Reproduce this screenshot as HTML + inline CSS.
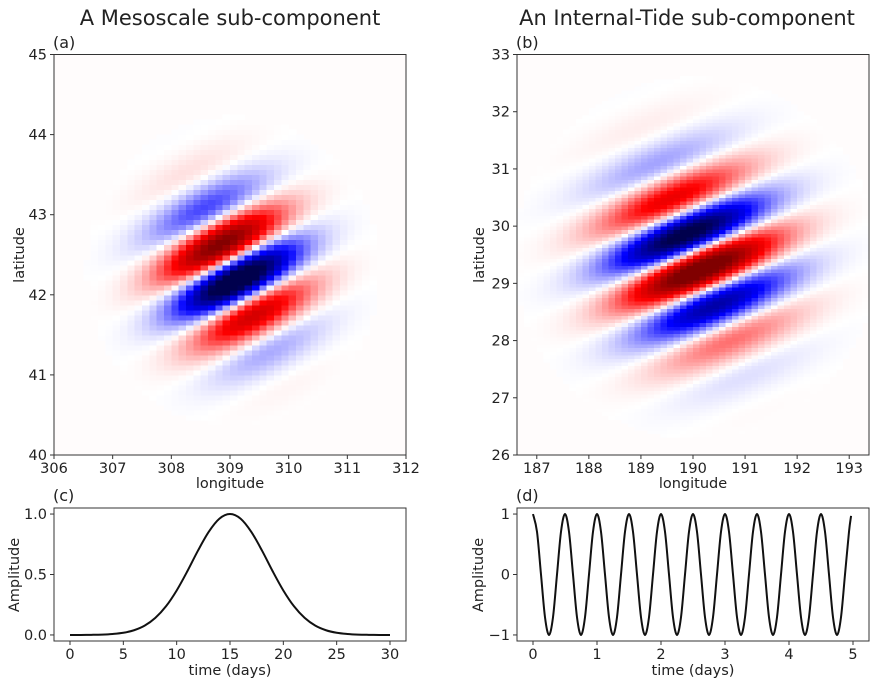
<!DOCTYPE html>
<html><head><meta charset="utf-8">
<style>
html,body{margin:0;padding:0;background:#fff;}
svg{display:block;font-family:"DejaVu Sans","Liberation Sans",sans-serif;}
</style></head>
<body>
<svg id="fig" width="878" height="686" viewBox="0 0 878 686">
<g id="g"></g>
</svg>
<script>
// ---- data ----
const tC = [0,1,2,3,4,5,6,7,8,9,10,11,12,13,14,15,16,17,18,19,20,21,22,23,24,25,26,27,28,29,30];
const ampC = [0,0,0.001,0.003,0.008,0.018,0.039,0.077,0.141,0.237,0.368,0.527,0.698,0.852,0.961,1,0.961,0.852,0.698,0.527,0.368,0.237,0.141,0.077,0.039,0.018,0.008,0.003,0.001,0,0];
const ampD = [1,0.707,0,-0.707,-1,-0.707,0,0.707,1,0.707,0,-0.707,-1,-0.707,0,0.707,1,0.707,0,-0.707,-1,-0.707,0,0.707,1,0.707,0,-0.707,-1,-0.707,0,0.707,1,0.707,0,-0.707,-1,-0.707,0,0.707,1,0.707,0,-0.707,-1,-0.707,0,0.707,1,0.707,0,-0.707,-1,-0.707,0,0.707,1,0.707,0,-0.707,-1,-0.707,0,0.707,1,0.707,0,-0.707,-1,-0.707,0,0.707,1,0.707,0,-0.707,-1,-0.707,0,0.707,0.97];
const dtD = 0.0625;
const centerLon = [309.05, 190.05];
const centerLat = [42.3, 29.45];
const phaseLon = [309.07, 190.0];
const phaseLat = [42.46, 29.56];
const latPeriod = [1.2, 1.54];
const bandSlope = [0.37, 0.37];
const sigmaLon = [0.75, 1.05];
const sigmaLat = [0.58, 0.95];
const peakAmp = [1.25, -1.2];
const cellLon = [0.125, 0.125];
const cellLat = [0.0625, 0.0625];
const xTicksA = [306,307,308,309,310,311,312];
const yTicksA = [40,41,42,43,44,45];
const xTicksB = [187,188,189,190,191,192,193];
const yTicksB = [26,27,28,29,30,31,32,33];
const xTicksC = [0,5,10,15,20,25,30];
const yTicksC = ["0.0","0.5","1.0"];
const xTicksD = [0,1,2,3,4,5];
const yTicksD = [-1,0,1];

const NS="http://www.w3.org/2000/svg";
const G=document.getElementById('g');
function el(tag,attrs,parent,text){const e=document.createElementNS(NS,tag);for(const k in attrs)e.setAttribute(k,attrs[k]);if(text!==undefined)e.textContent=text;(parent||G).appendChild(e);return e;}
function lin(d0,d1,p0,p1){return v=>p0+(v-d0)*(p1-p0)/(d1-d0);}
function seismic(v){
  let t=(v+1)/2; t=Math.max(0,Math.min(1,t));
  const st=[[0,0,0.3],[0,0,1],[1,1,1],[1,0,0],[0.5,0,0]];
  const s=t*4;let i=Math.min(3,Math.floor(s));const f=s-i;
  const c=st[i].map((a,j)=>Math.round(255*(a+(st[i+1][j]-a)*f)));
  return `rgb(${c[0]},${c[1]},${c[2]})`;
}
function axesFrame(name,x0,y0,x1,y1,bg){
  const r=el('rect',{x:x0,y:y0,width:x1-x0,height:y1-y0,fill:bg,stroke:'none'});
  
  return r;
}
function border(name,x0,y0,x1,y1){
  const r=el('rect',{x:x0,y:y0,width:x1-x0,height:y1-y0,fill:'none',stroke:'#333',"stroke-width":1});
  
}
function xTicks(name,ticks,sx,y,labels){
  ticks.forEach((t,i)=>{const x=sx(t);
    const l=el('line',{x1:x,x2:x,y1:y,y2:y+4,stroke:'#333'});
    
    const tx=el('text',{x:x,y:y+18,"font-size":14.5,"text-anchor":"middle",fill:'#222'},G,labels?labels[i]:String(t).replace('-','\u2212'));
    });
}
function yTicks(name,ticks,sy,x,labels){
  ticks.forEach((t,i)=>{const y=sy(+t);
    const l=el('line',{x1:x-4,x2:x,y1:y,y2:y,stroke:'#333'});
    
    const tx=el('text',{x:x-7,y:y+5,"font-size":14.5,"text-anchor":"end",fill:'#222'},G,labels?labels[i]:String(t).replace('-','\u2212'));
    });
}
function label(name,x,y,txt,size,rot,anchor){
  const a={x:x,y:y,"font-size":size,"text-anchor":anchor||"middle",fill:'#222'};
  if(rot)a.transform=`rotate(-90 ${x} ${y})`;
  const t=el('text',a,G,txt);
}
function heatmap(p,name,lon0,lon1,lat0,lat1,x0,x1,y0,y1){
  const sx=lin(lon0,lon1,x0,x1), sy=lin(lat0,lat1,y1,y0);
  axesFrame(name,x0,y0,x1,y1,'rgb(255,252,252)');
  const clip=el('clipPath',{id:'clip'+name});el('rect',{x:x0,y:y0,width:x1-x0,height:y1-y0},clip);
  const grp=el('g',{"clip-path":`url(#clip${name})`,"shape-rendering":"crispEdges"});
  
  const cL=cellLon[p], cA=cellLat[p];
  const ky=2*Math.PI/latPeriod[p], kx=-bandSlope[p]*ky;
  const nx=Math.ceil((lon1-lon0)/cL)+2, ny=Math.ceil((lat1-lat0)/cA)+2;
  const lx0=Math.floor(lon0/cL)*cL, ly0=Math.floor(lat0/cA)*cA;
  for(let i=0;i<nx;i++){
    for(let j=0;j<ny;j++){
      const lo=lx0+i*cL, la=ly0+j*cA;
      const cx=lo+cL/2, cy=la+cA/2;
      const env=Math.exp(-((cx-centerLon[p])**2)/(2*sigmaLon[p]**2)-((cy-centerLat[p])**2)/(2*sigmaLat[p]**2));
      if(env<0.004)continue;
      const v=peakAmp[p]*env*Math.sin(ky*(cy-phaseLat[p])+kx*(cx-phaseLon[p]));
      const X=sx(lo),Y=sy(la+cA);
      const r=el('rect',{x:X.toFixed(2),y:Y.toFixed(2),width:(sx(lo+cL)-X+0.5).toFixed(2),height:(sy(la)-Y+0.5).toFixed(2),fill:seismic(v)},grp);
      
      
    }
  }
  return {sx,sy};
}
function smoothPath(pts){
  let d=`M${pts[0][0].toFixed(2)},${pts[0][1].toFixed(2)}`;
  for(let i=0;i<pts.length-1;i++){
    const p0=pts[Math.max(0,i-1)],p1=pts[i],p2=pts[i+1],p3=pts[Math.min(pts.length-1,i+2)];
    const c1=[p1[0]+(p2[0]-p0[0])/6,p1[1]+(p2[1]-p0[1])/6];
    const c2=[p2[0]-(p3[0]-p1[0])/6,p2[1]-(p3[1]-p1[1])/6];
    d+=`C${c1[0].toFixed(2)},${c1[1].toFixed(2)} ${c2[0].toFixed(2)},${c2[1].toFixed(2)} ${p2[0].toFixed(2)},${p2[1].toFixed(2)}`;
  }
  return d;
}

label('title-mesoscale',230,25,'A Mesoscale sub-component',21);
label('title-internal-tide',687,25,'An Internal-Tide sub-component',21);

let A=heatmap(0,'panel-a',306,312,40,45,54,406,54.5,455);
border('panel-a',54,54.5,406,455);
xTicks('panel-a',xTicksA,A.sx,455);
yTicks('panel-a',yTicksA,A.sy,54);
label('panel-a-x-axis-title',230,488,'longitude',14.5);
label('panel-a-y-axis-title',24,255,'latitude',14.5,true);
label('panel-a-letter',53,48,'(a)',16,false,'start');

let B=heatmap(1,'panel-b',186.62,193.38,26,33,517,869,54.5,455);
border('panel-b',517,54.5,869,455);
xTicks('panel-b',xTicksB,B.sx,455);
yTicks('panel-b',yTicksB,B.sy,517);
label('panel-b-x-axis-title',693,488,'longitude',14.5);
label('panel-b-y-axis-title',484,255,'latitude',14.5,true);
label('panel-b-letter',516,48,'(b)',16,false,'start');

const cx0=54,cx1=406,cy0=508,cy1=641;
const sxC=lin(-1.5,31.5,cx0,cx1), syC=lin(-0.05,1.05,cy1,cy0);
axesFrame('panel-c',cx0,cy0,cx1,cy1,'#fff');
let pc=el('path',{d:smoothPath(tC.map((t,i)=>[sxC(t),syC(ampC[i])])),fill:'none',stroke:'#111',"stroke-width":2});

border('panel-c',cx0,cy0,cx1,cy1);
xTicks('panel-c',xTicksC,sxC,cy1);
yTicks('panel-c',yTicksC,syC,cx0,yTicksC);
label('panel-c-x-axis-title',230,675,'time (days)',14.5);
label('panel-c-y-axis-title',19,575,'Amplitude',14.5,true);
label('panel-c-letter',53,501,'(c)',16,false,'start');

const dx0=517,dx1=869;
const sxD=lin(-0.25,5.25,dx0,dx1), syD=lin(-1.1,1.1,cy1,cy0);
axesFrame('panel-d',dx0,cy0,dx1,cy1,'#fff');
let pd=el('path',{d:smoothPath(ampD.map((v,i)=>[sxD(i===ampD.length-1?4.97:i*dtD),syD(v)])),fill:'none',stroke:'#111',"stroke-width":2});

border('panel-d',dx0,cy0,dx1,cy1);
xTicks('panel-d',xTicksD,sxD,cy1);
yTicks('panel-d',yTicksD,syD,dx0);
label('panel-d-x-axis-title',693,675,'time (days)',14.5);
label('panel-d-y-axis-title',483,575,'Amplitude',14.5,true);
label('panel-d-letter',516,501,'(d)',16,false,'start');
</script>
</body></html>
